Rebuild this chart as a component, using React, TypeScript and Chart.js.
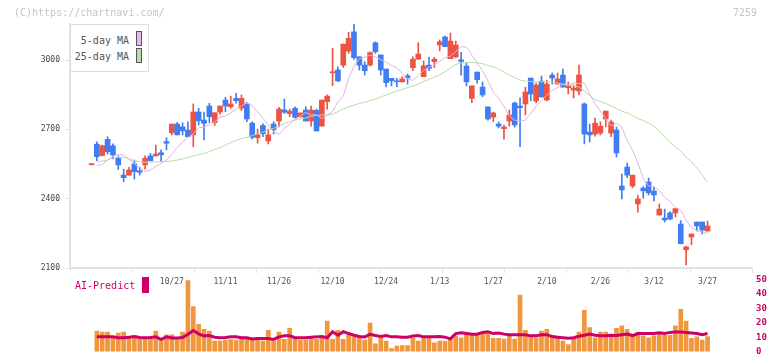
import React, { useEffect, useRef } from "react";
import { Chart, registerables } from "chart.js";

Chart.register(...registerables);

// ---- data ----
const openP = [
  2547, 2636, 2587, 2657, 2629, 2575, 2502, 2502, 2550, 2521,
  2546, 2585, 2585, 2599, 2647, 2685, 2723, 2711, 2697, 2676,
  2775, 2740, 2801, 2729, 2775, 2827, 2798, 2834, 2792, 2810,
  2727, 2664, 2717, 2650, 2723, 2736, 2784, 2768, 2791, 2755,
  2784, 2736, 2782, 2714, 2820, 2945, 2957, 2978, 3039, 3122,
  3014, 2978, 2978, 3075, 3022, 2961, 2921, 2910, 2906, 2932,
  2967, 3004, 2928, 2978, 2993, 3065, 3100, 3006, 3014, 3001,
  2974, 2834, 2948, 2883, 2797, 2753, 2723, 2703, 2736, 2814,
  2801, 2810, 2922, 2823, 2909, 2827, 2935, 2896, 2935, 2880,
  2870, 2866, 2810, 2688, 2680, 2684, 2745, 2684, 2697, 2455,
  2537, 2455, 2377, 2446, 2472, 2433, 2329, 2316, 2338, 2338,
  2290, 2179, 2234, 2299, 2299, 2260,
];
const highP = [
  2552, 2646, 2632, 2668, 2637, 2585, 2528, 2536, 2567, 2536,
  2585, 2596, 2632, 2611, 2664, 2723, 2730, 2729, 2733, 2810,
  2791, 2775, 2813, 2772, 2801, 2839, 2844, 2856, 2849, 2817,
  2733, 2701, 2724, 2701, 2733, 2795, 2831, 2788, 2797, 2771,
  2798, 2801, 2788, 2827, 2849, 3051, 2971, 3069, 3120, 3156,
  3014, 2993, 3036, 3079, 3022, 2961, 2921, 2921, 2928, 2939,
  3014, 3075, 2996, 3013, 3012, 3087, 3104, 3117, 3082, 3033,
  2986, 2888, 2948, 2905, 2797, 2775, 2732, 2719, 2784, 2818,
  2836, 2883, 2922, 2900, 2931, 2913, 2944, 2944, 2961, 2905,
  2892, 2978, 2814, 2723, 2749, 2732, 2779, 2740, 2710, 2507,
  2554, 2502, 2416, 2452, 2489, 2450, 2377, 2355, 2344, 2357,
  2305, 2195, 2247, 2299, 2299, 2303,
];
const lowP = [
  2546, 2564, 2585, 2593, 2572, 2527, 2473, 2502, 2485, 2502,
  2528, 2564, 2585, 2560, 2611, 2676, 2676, 2676, 2668, 2625,
  2719, 2654, 2729, 2717, 2766, 2776, 2791, 2813, 2781, 2733,
  2658, 2640, 2668, 2637, 2679, 2711, 2769, 2755, 2748, 2752,
  2736, 2714, 2693, 2714, 2787, 2889, 2906, 2968, 3029, 3003,
  2957, 2935, 2975, 3029, 2935, 2884, 2888, 2884, 2904, 2896,
  2954, 3004, 2928, 2954, 2967, 3040, 3058, 3006, 3010, 2935,
  2888, 2815, 2900, 2841, 2740, 2733, 2706, 2658, 2714, 2710,
  2625, 2762, 2823, 2814, 2840, 2823, 2896, 2896, 2883, 2853,
  2836, 2849, 2637, 2645, 2671, 2676, 2711, 2668, 2580, 2399,
  2491, 2447, 2342, 2402, 2416, 2390, 2329, 2299, 2308, 2321,
  2205, 2113, 2201, 2260, 2247, 2260,
];
const closeP = [
  2551, 2582, 2629, 2603, 2589, 2546, 2491, 2524, 2517, 2514,
  2575, 2564, 2593, 2590, 2640, 2723, 2676, 2694, 2668, 2775,
  2737, 2726, 2755, 2772, 2801, 2801, 2810, 2824, 2834, 2745,
  2666, 2676, 2681, 2676, 2698, 2788, 2774, 2779, 2752, 2771,
  2736, 2784, 2693, 2827, 2844, 2948, 2910, 3069, 3094, 3010,
  2978, 2954, 3032, 3036, 2957, 2902, 2910, 2906, 2918, 2923,
  3004, 3026, 2975, 2964, 3004, 3079, 3058, 3082, 3065, 2994,
  2906, 2888, 2915, 2849, 2745, 2771, 2714, 2710, 2762, 2719,
  2794, 2862, 2853, 2892, 2840, 2896, 2922, 2918, 2883, 2888,
  2879, 2935, 2680, 2676, 2727, 2714, 2779, 2732, 2598, 2438,
  2502, 2502, 2399, 2434, 2425, 2416, 2355, 2308, 2312, 2357,
  2205, 2191, 2247, 2282, 2264, 2282,
];
const ma5 = [
  null, 2544, 2548, 2567, 2585, 2591, 2590, 2572, 2551, 2533,
  2518, 2524, 2539, 2553, 2567, 2592, 2622, 2644, 2665, 2680,
  2707, 2710, 2720, 2732, 2753, 2758, 2771, 2788, 2802, 2814,
  2803, 2776, 2749, 2720, 2689, 2679, 2704, 2723, 2743, 2758,
  2773, 2762, 2764, 2747, 2762, 2777, 2819, 2844, 2920, 2973,
  3006, 3012, 3021, 3014, 3002, 2991, 2976, 2967, 2942, 2919,
  2912, 2932, 2955, 2969, 2978, 2995, 3010, 3016, 3037, 3058,
  3056, 3021, 2987, 2954, 2910, 2861, 2834, 2799, 2758, 2740,
  2735, 2740, 2769, 2798, 2824, 2848, 2869, 2881, 2894, 2892,
  2901, 2898, 2901, 2853, 2812, 2779, 2746, 2715, 2726, 2710,
  2652, 2610, 2554, 2488, 2455, 2452, 2435, 2406, 2388, 2363,
  2350, 2307, 2275, 2262, 2256, 2250,
];
const ma25 = [
  null, 2558, 2563, 2567, 2576, 2579, 2579, 2572, 2564, 2560,
  2558, 2558, 2559, 2560, 2561, 2563, 2567, 2572, 2578, 2585,
  2591, 2595, 2604, 2613, 2621, 2632, 2643, 2652, 2660, 2665,
  2673, 2682, 2688, 2697, 2704, 2714, 2725, 2734, 2740, 2745,
  2749, 2756, 2760, 2762, 2762, 2766, 2777, 2788, 2797, 2805,
  2812, 2818, 2824, 2831, 2840, 2849, 2857, 2866, 2872, 2881,
  2888, 2896, 2907, 2916, 2926, 2935, 2950, 2965, 2981, 2987,
  2989, 2989, 2988, 2984, 2976, 2971, 2961, 2948, 2935, 2924,
  2913, 2909, 2907, 2906, 2906, 2906, 2905, 2900, 2896, 2894,
  2890, 2883, 2866, 2846, 2829, 2820, 2812, 2801, 2790, 2779,
  2771, 2760, 2747, 2738, 2727, 2714, 2693, 2667, 2643, 2624,
  2606, 2580, 2559, 2533, 2502, 2471,
];
const volume = [
  null, 14.2, 13.6, 13.6, 10.2, 12.9, 13.6, 9.6, 10.9, 9.6,
  9.6, 9.6, 14.2, 8.4, 11.7, 11.7, 9.6, 13.6, 49.2, 31.1,
  18.8, 15.4, 14.2, 7.3, 7.3, 7.9, 8.4, 7.9, 9.6, 9.6,
  7.9, 7.9, 7.3, 14.8, 7.3, 13.6, 8.5, 16.1, 9.6, 7.9,
  7.9, 9.6, 8.5, 10.2, 21.1, 8.5, 14.8, 8.5, 11.7, 10.2,
  10.2, 7.9, 19.8, 5.4, 9.6, 7.3, 2.1, 3.8, 4.2, 4.2,
  9.6, 7.3, 9.6, 9.6, 6.1, 7.3, 7.3, 9.6, 10.9, 9.6,
  13.6, 11.3, 11.3, 12.9, 12.9, 9.2, 9.2, 8.6, 10.9, 8.6,
  39.2, 14.8, 10.9, 9.6, 14.2, 15.4, 10.9, 9.6, 7.3, 4.8,
  9.6, 13.6, 28.6, 16.7, 9.6, 13.6, 13.6, 12.3, 16.1, 17.9,
  15.4, 10.9, 13.6, 10.9, 9.6, 10.9, 12.3, 11.3, 11.3, 17.9,
  29.2, 21.1, 9.2, 10.2, 7.9, 10.4,
];
const aiPredict = [
  null, 10.2, 10.2, 10.2, 10.2, 9.6, 9.6, 10.0, 10.5, 9.8,
  9.6, 9.8, 10.2, 8.5, 10.2, 9.4, 9.4, 9.8, 12.0, 14.6,
  12.3, 10.9, 11.1, 10.0, 9.6, 9.8, 10.2, 10.2, 9.6, 9.6,
  8.8, 9.0, 9.0, 9.0, 8.4, 10.2, 10.9, 10.9, 9.6, 9.6,
  9.6, 10.0, 10.2, 10.5, 9.6, 13.8, 11.3, 13.8, 12.5, 11.3,
  10.5, 10.2, 12.0, 11.1, 10.5, 11.1, 10.2, 10.2, 10.0, 10.0,
  10.8, 11.1, 10.2, 10.2, 10.2, 10.4, 10.0, 8.8, 12.5, 13.1,
  12.5, 12.1, 12.1, 13.3, 13.8, 12.5, 12.9, 12.1, 11.7, 11.7,
  11.7, 11.7, 10.9, 10.9, 11.7, 11.7, 10.4, 10.0, 9.6, 9.2,
  9.6, 10.6, 11.3, 12.1, 11.3, 10.9, 10.9, 11.1, 11.1, 11.7,
  12.1, 11.1, 12.5, 12.5, 12.5, 12.5, 13.1, 12.5, 13.3, 13.5,
  13.5, 13.3, 12.9, 12.5, 11.7, 12.5,
];
const dateLabels = ["10/27", "11/11", "11/26", "12/10", "12/24", "1/13", "1/27", "2/10", "2/26", "3/12", "3/27"];
const dateLabelIndex = [15, 25, 35, 45, 55, 65, 75, 85, 95, 105, 115];
const priceTicks = [2100, 2400, 2700, 3000];
const volumeTicks = [0, 10, 20, 30, 40, 50];

// ---- styling ----
const X_MIN = -4.013;
const X_MAX = 123.3;
const GRID_TICK_COUNT = 12;
const RED = "#ee5442";
const BLUE = "#417df0";
const PINK = "#e4b2e6";
const GREEN = "#b6dca8";
const ORANGE = "#f0963c";
const MAGENTA = "#cc0066";
const AXIS = "#e2e2e2";
const MONO = "'DejaVu Sans Mono', monospace";

export default function App() {
  const mainRef = useRef<HTMLCanvasElement | null>(null);
  const volRef = useRef<HTMLCanvasElement | null>(null);

  useEffect(() => {
    const idx = closeP.map((_, i) => i);
    const candleColors = idx.map((i) => (closeP[i] >= openP[i] ? RED : BLUE));
    const gridTicks = Array.from({ length: GRID_TICK_COUNT }, (_, k) => X_MIN + (k * (X_MAX - X_MIN)) / (GRID_TICK_COUNT - 1));

    const main = new Chart(mainRef.current as HTMLCanvasElement, {
      type: "bar",
      data: {
        datasets: [
          {
            type: "line",
            label: "5-day MA",
            data: ma5.map((v, i) => ({ x: i, y: v })),
            borderColor: PINK,
            borderWidth: 1,
            pointRadius: 0,
            order: 1,
          } as any,
          {
            type: "line",
            label: "25-day MA",
            data: ma25.map((v, i) => ({ x: i, y: v })),
            borderColor: GREEN,
            borderWidth: 1,
            pointRadius: 0,
            order: 1,
          } as any,
          {
            type: "bar",
            label: "wick",
            data: idx.map((i) => ({ x: i, y: [lowP[i], highP[i]] })),
            backgroundColor: candleColors,
            barThickness: 1,
            grouped: false,
            order: 3,
          } as any,
          {
            type: "bar",
            label: "body",
            data: idx.map((i) => ({ x: i, y: [openP[i], closeP[i]] })),
            backgroundColor: candleColors,
            barThickness: 5,
            minBarLength: 1,
            grouped: false,
            order: 2,
          } as any,
        ],
      },
      options: {
        animation: false,
        responsive: false,
        maintainAspectRatio: false,
        layout: { padding: { left: 0, right: 20, top: 24, bottom: 0 } },
        plugins: { legend: { display: false }, tooltip: { enabled: false } },
        scales: {
          x: {
            type: "linear",
            min: X_MIN,
            max: X_MAX,
            offset: false,
            position: "bottom",
            afterBuildTicks: (s: any) => {
              s.ticks = gridTicks.map((v) => ({ value: v }));
            },
            afterFit: (s: any) => {
              s.height = 5;
            },
            grid: { display: true, offset: false, drawOnChartArea: false, drawTicks: true, tickLength: 5, color: AXIS, lineWidth: 1 },
            border: { display: true, color: AXIS, width: 2 },
            ticks: { display: false },
          },
          x2: {
            type: "linear",
            min: X_MIN,
            max: X_MAX,
            offset: false,
            position: "bottom",
            afterBuildTicks: (s: any) => {
              s.ticks = dateLabelIndex.map((v) => ({ value: v }));
            },
            afterFit: (s: any) => {
              s.height = 20;
            },
            grid: { display: false, drawTicks: false },
            border: { display: false },
            ticks: {
              autoSkip: false,
              maxRotation: 0,
              padding: 4,
              color: "#555",
              font: { family: MONO, size: 8 },
              callback: (v: any) => {
                const k = dateLabelIndex.indexOf(Math.round(Number(v)));
                return k >= 0 ? dateLabels[k] : "";
              },
            },
          },
          y: {
            type: "linear",
            min: 2100,
            max: 3156,
            position: "left",
            afterBuildTicks: (s: any) => {
              s.ticks = priceTicks.map((v) => ({ value: v }));
            },
            afterFit: (s: any) => {
              s.width = 70;
            },
            grid: { display: true, drawOnChartArea: false, drawTicks: true, tickLength: 5, color: AXIS, lineWidth: 1 },
            border: { display: true, color: AXIS, width: 2 },
            ticks: {
              padding: 5,
              color: "#444",
              font: { family: MONO, size: 8 },
              callback: (v: any) => String(v),
            },
          },
        },
      } as any,
    });

    const vol = new Chart(volRef.current as HTMLCanvasElement, {
      type: "bar",
      data: {
        datasets: [
          {
            type: "line",
            label: "AI-Predict",
            data: aiPredict.map((v, i) => ({ x: i, y: v })),
            borderColor: MAGENTA,
            borderWidth: 3,
            pointRadius: 0,
            order: 1,
          } as any,
          {
            type: "bar",
            label: "Volume",
            data: volume.map((v, i) => ({ x: i, y: v })),
            backgroundColor: ORANGE,
            barThickness: 4,
            grouped: false,
            order: 2,
          } as any,
        ],
      },
      options: {
        animation: false,
        responsive: false,
        maintainAspectRatio: false,
        layout: { padding: { left: 70, right: 0, top: 8, bottom: 3 } },
        plugins: { legend: { display: false }, tooltip: { enabled: false } },
        scales: {
          x: { type: "linear", min: X_MIN, max: X_MAX, offset: false, display: false },
          y: {
            type: "linear",
            position: "right",
            min: 0,
            max: 50,
            afterBuildTicks: (s: any) => {
              s.ticks = volumeTicks.map((v) => ({ value: v }));
            },
            afterFit: (s: any) => {
              s.width = 20;
            },
            grid: { display: false, drawTicks: false },
            border: { display: false },
            ticks: {
              padding: 4,
              color: MAGENTA,
              font: { family: MONO, size: 9, weight: "bold" },
              callback: (v: any) => String(v),
            },
          },
        },
      } as any,
    });

    return () => {
      main.destroy();
      vol.destroy();
    };
  }, []);

  const mono: React.CSSProperties = { fontFamily: MONO, fontSize: 10, lineHeight: "10px", whiteSpace: "nowrap" };

  return (
    <div style={{ position: "absolute", left: 0, top: 0, width: 772, height: 361, background: "#fff", overflow: "hidden" }}>
      <canvas ref={mainRef} width={772} height={293} style={{ position: "absolute", left: 0, top: 0, width: 772, height: 293 }} />
      <canvas ref={volRef} width={772} height={91} style={{ position: "absolute", left: 0, top: 270, width: 772, height: 91 }} />
      <div style={{ ...mono, position: "absolute", left: 14, top: 8, color: "#c4c4c4" }}>(C)https://chartnavi.com/</div>
      <div style={{ ...mono, position: "absolute", left: 733, top: 8, color: "#c4c4c4" }}>7259</div>
      <div
        style={{
          position: "absolute",
          left: 70,
          top: 24,
          width: 77,
          height: 46,
          border: "1px solid #dddddd",
          background: "#fff",
        }}
      >
        <div style={{ ...mono, position: "absolute", right: 19, top: 11, color: "#555" }}>5-day MA</div>
        <div style={{ position: "absolute", left: 65, top: 6, width: 4, height: 13, background: "#e8b8e8", border: "1px solid #555" }} />
        <div style={{ ...mono, position: "absolute", right: 19, top: 27, color: "#555" }}>25-day MA</div>
        <div style={{ position: "absolute", left: 65, top: 23, width: 4, height: 13, background: "#b8dcaa", border: "1px solid #555" }} />
      </div>
      <div style={{ ...mono, position: "absolute", left: 75, top: 281, color: MAGENTA }}>AI-Predict</div>
      <div style={{ position: "absolute", left: 142, top: 277, width: 7, height: 16, background: MAGENTA }} />
    </div>
  );
}
